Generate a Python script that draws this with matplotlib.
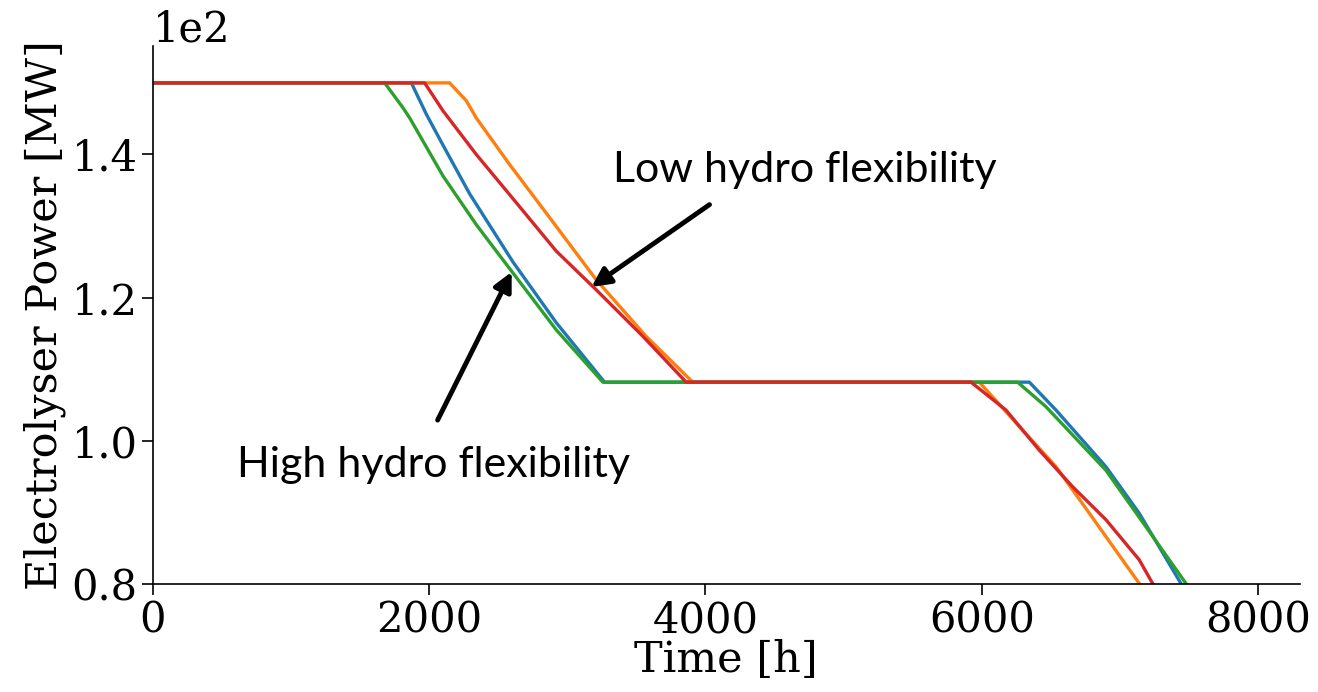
import matplotlib
matplotlib.use('Agg')
import matplotlib.pyplot as plt

# electrolyser power [MW] vs time [h]
blue_t = [0, 1871, 1980, 2100, 2293, 2606, 2920, 3269, 6344, 6537, 6898, 7139, 7441, 7470]
blue_p = [150, 150, 145.6, 141.3, 134.5, 125.0, 116.5, 108.2, 108.2, 104.3, 96.4, 89.9, 80.1, 79.3]

orange_t = [0, 2148, 2269, 2341, 2582, 2848, 3209, 3570, 3908, 5982, 6295, 6537, 6778, 7139, 7165]
orange_p = [150, 150, 147.5, 145.1, 138.6, 131.8, 122.5, 114.6, 108.2, 108.2, 101.5, 96.4, 89.9, 80.1, 79.4]

green_t = [0, 1678, 1811, 1859, 2100, 2341, 2486, 2920, 3257, 6259, 6463, 6898, 7188, 7477, 7500]
green_p = [150, 150, 146.5, 145.1, 137.0, 130.2, 126.5, 115.5, 108.2, 108.2, 104.8, 95.9, 88.0, 80.1, 79.5]

red_t = [0, 1967, 2100, 2341, 2582, 2920, 3209, 3547, 3860, 5922, 6175, 6416, 6657, 6898, 7139, 7236, 7260]
red_p = [150, 150, 146.1, 140.0, 134.4, 126.5, 121.1, 114.6, 108.2, 108.2, 104.3, 98.7, 93.6, 89.0, 83.4, 80.1, 79.4]

series = [
    (blue_t, blue_p, '#1f77b4'),
    (orange_t, orange_p, '#ff7f0e'),
    (green_t, green_p, '#2ca02c'),
    (red_t, red_p, '#d62728'),
]

plt.rcParams['font.family'] = 'DejaVu Serif'

fig = plt.figure(figsize=(13.18, 6.92), dpi=100)
ax = fig.add_axes([0.116, 0.156, 0.87, 0.778])

for t, p, c in series:
    ax.plot(t, p, color=c, lw=2.4)

ax.set_xlim(0, 8300)
ax.set_ylim(80, 155.2)
ax.set_xticks([0, 2000, 4000, 6000, 8000])
ax.set_yticks([80, 100, 120, 140])
ax.ticklabel_format(axis='y', style='sci', scilimits=(0, 0))
ax.yaxis.get_offset_text().set_fontsize(30)
ax.tick_params(labelsize=30, length=8, width=1.2, pad=3)

ax.spines['top'].set_visible(False)
ax.spines['right'].set_visible(False)
ax.spines['left'].set_linewidth(1.2)
ax.spines['bottom'].set_linewidth(1.2)

ax.set_xlabel('Time [h]', fontsize=31, labelpad=-2)
ax.set_ylabel('Electrolyser Power [MW]', fontsize=31, labelpad=4)

# annotations
arrow = dict(arrowstyle='-|>', color='black', lw=3.5, mutation_scale=28,
             shrinkA=0, shrinkB=0)
ax.text(3327, 137.9, 'Low hydro flexibility', fontsize=31, family='Lato',
        va='center', ha='left')
ax.annotate('', xy=(3175, 121.5), xytext=(4029, 133.0), arrowprops=arrow)
ax.text(608, 96.6, 'High hydro flexibility', fontsize=31, family='Lato',
        va='center', ha='left')
ax.annotate('', xy=(2597, 123.6), xytext=(2061, 102.9), arrowprops=arrow)

fig.savefig('out.png', dpi=100)
